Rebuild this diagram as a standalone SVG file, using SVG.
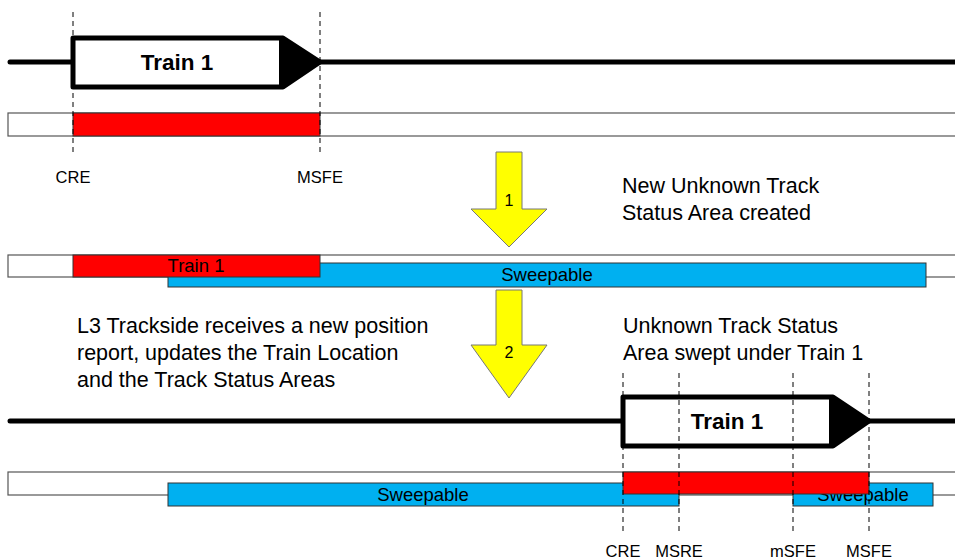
<svg xmlns="http://www.w3.org/2000/svg" width="955" height="559" viewBox="0 0 955 559">
<style>
text{font-family:"Liberation Sans",Arial,sans-serif;fill:#000}
.track{stroke:#000;stroke-width:5;stroke-linecap:round;fill:none}
.train{fill:#fff;stroke:#000;stroke-width:5;stroke-linejoin:round}
.head{fill:#000}
.bar{fill:#fff;stroke:#555;stroke-width:1.2}
.red{fill:#ff0000;stroke:#333;stroke-width:1}
.blue{fill:#00b0f0;stroke:#333;stroke-width:1}
.dash{stroke:#000;stroke-width:1;stroke-dasharray:5,4;fill:none}
.arrow{fill:#ffff00;stroke:#777;stroke-width:1}
.lbl{font-size:16.5px;text-anchor:middle}
.desc{font-size:21.5px}
.tt{font-size:22.5px;font-weight:bold;text-anchor:middle}
.bt{font-size:18.5px;text-anchor:middle}
.num{font-size:16px;text-anchor:middle}
</style>
<g id="top-track">
<line class="track" x1="10" y1="62" x2="960" y2="62"/>
</g>
<g id="train1-top">
<path class="train" d="M73,38 H283 L320,62 L283,87 H73 Z"/>
<path class="head" d="M279,37 L320,62 L279,88 Z"/>
<text class="tt" x="177" y="70">Train 1</text>
</g>
<g id="bar1">
<rect class="bar" x="8" y="113" width="950" height="23"/>
<rect class="red" x="73" y="113" width="247" height="23"/>
</g>
<g id="arrow1">
<path class="arrow" d="M496,152 H522 V209 H547 L509,247 L471,209 H496 Z"/>
<text class="num" x="509" y="206">1</text>
</g>
<g id="note1">
<text class="desc" x="622" y="193">New Unknown Track</text>
<text class="desc" x="622" y="220">Status Area created</text>
</g>
<g id="bar2">
<rect class="bar" x="8" y="255" width="950" height="22"/>
<rect class="blue" x="168" y="263" width="758" height="24"/>
<text class="bt" x="547" y="281">Sweepable</text>
<rect class="red" x="73" y="255" width="247" height="22"/>
<text class="bt" x="196" y="272">Train 1</text>
</g>
<g id="arrow2">
<path class="arrow" d="M496,290 H522 V345 H547 L509,398 L471,345 H496 Z"/>
<text class="num" x="509" y="358">2</text>
</g>
<g id="note2">
<text class="desc" x="77" y="333">L3 Trackside receives a new position</text>
<text class="desc" x="77" y="360">report, updates the Train Location</text>
<text class="desc" x="77" y="387">and the Track Status Areas</text>
</g>
<g id="note3">
<text class="desc" x="623" y="333">Unknown Track Status</text>
<text class="desc" x="623" y="360">Area swept under Train 1</text>
</g>
<g id="bottom-track">
<line class="track" x1="10" y1="421" x2="960" y2="421"/>
</g>
<g id="train1-bottom">
<path class="train" d="M623,397 H833 L869,421 L833,446 H623 Z"/>
<path class="head" d="M829,396 L869,421 L829,447 Z"/>
<text class="tt" x="727" y="429">Train 1</text>
</g>
<g id="bar3">
<rect class="bar" x="8" y="472" width="950" height="23"/>
<rect class="blue" x="168" y="483" width="511" height="23"/>
<text class="bt" x="423" y="501">Sweepable</text>
<rect class="blue" x="793" y="483" width="140" height="23"/>
<text class="bt" x="863" y="501">Sweepable</text>
<rect class="red" x="623" y="472" width="246" height="22"/>
</g>
<g id="connectors">
<line class="dash" x1="73" y1="12" x2="73" y2="152"/>
<line class="dash" x1="320" y1="12" x2="320" y2="152"/>
<line class="dash" x1="623" y1="373" x2="623" y2="533"/>
<line class="dash" x1="679" y1="373" x2="679" y2="533"/>
<line class="dash" x1="793" y1="373" x2="793" y2="533"/>
<line class="dash" x1="869" y1="373" x2="869" y2="533"/>
</g>
<g id="labels">
<text class="lbl" x="73" y="183">CRE</text>
<text class="lbl" x="320" y="183">MSFE</text>
<text class="lbl" x="623" y="557">CRE</text>
<text class="lbl" x="679" y="557">MSRE</text>
<text class="lbl" x="793" y="557">mSFE</text>
<text class="lbl" x="869" y="557">MSFE</text>
</g>
</svg>
